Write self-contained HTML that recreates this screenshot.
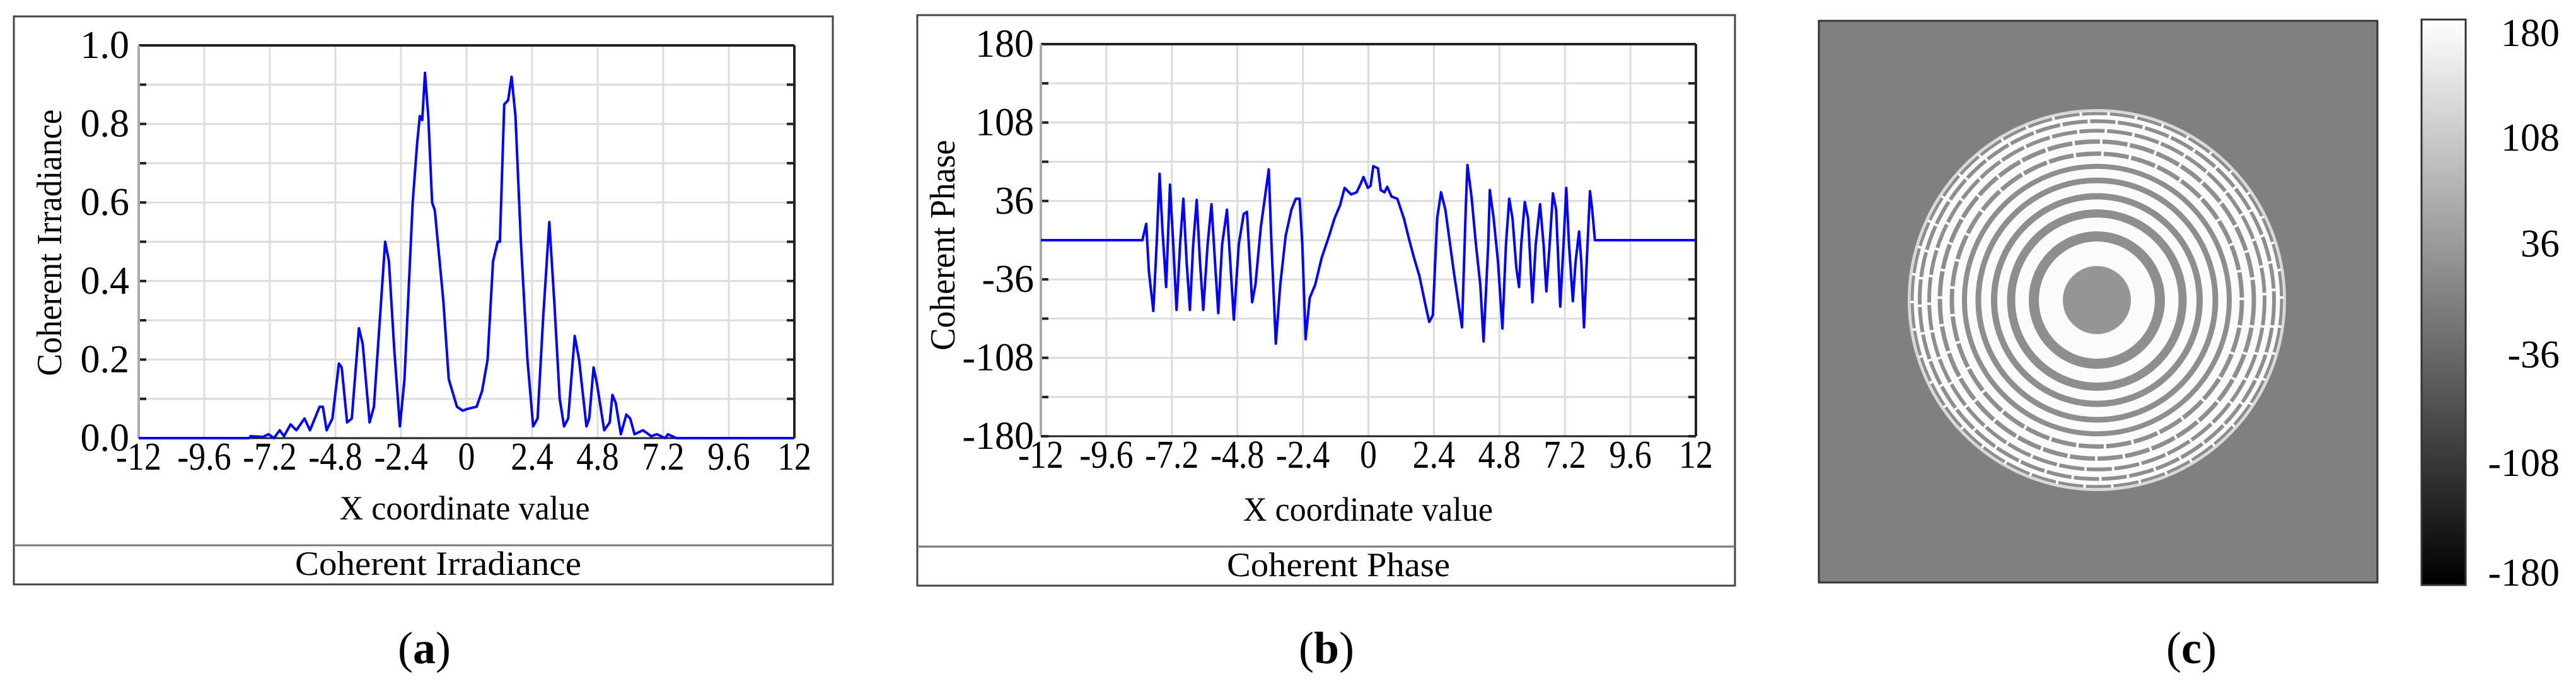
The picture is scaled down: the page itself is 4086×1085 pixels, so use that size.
<!DOCTYPE html>
<html><head><meta charset="utf-8"><style>
html,body{margin:0;padding:0;background:#fff;}
svg{display:block;}
svg text{font-family:"Liberation Serif","DejaVu Serif",serif;}
.sx{transform-box:fill-box;transform-origin:center;transform:scaleX(0.87);}
</style></head><body>
<svg id="fig" width="4086" height="1085" viewBox="0 0 4086 1085" xmlns="http://www.w3.org/2000/svg" font-family="Liberation Serif, serif">
<defs>
<linearGradient id="cbg" x1="0" y1="1" x2="0" y2="0">
<stop offset="0" stop-color="#000"/><stop offset="1" stop-color="#fff"/>
</linearGradient>
</defs>
<g id="pa">
<rect x="22" y="26" width="1299" height="901" fill="none" stroke="#444" stroke-width="3"/>
<line x1="22" y1="865" x2="1321" y2="865" stroke="#777" stroke-width="3"/>
<text x="695" y="912" font-size="54" text-anchor="middle" textLength="454" lengthAdjust="spacingAndGlyphs">Coherent Irradiance</text>
<text x="737" y="824" font-size="54" text-anchor="middle" textLength="397" lengthAdjust="spacingAndGlyphs">X coordinate value</text>
<text transform="translate(97,385) rotate(-90)" font-size="56" text-anchor="middle" textLength="423" lengthAdjust="spacingAndGlyphs">Coherent  Irradiance</text>
<text x="673" y="1052" font-size="72" text-anchor="middle">(<tspan font-weight="bold">a</tspan>)</text>
</g>
<g id="pb">
<rect x="1455" y="24" width="1297" height="905" fill="none" stroke="#444" stroke-width="3"/>
<line x1="1455" y1="867" x2="2752" y2="867" stroke="#777" stroke-width="3"/>
<text x="2123" y="914" font-size="54" text-anchor="middle" textLength="354" lengthAdjust="spacingAndGlyphs">Coherent Phase</text>
<text x="2170" y="826" font-size="54" text-anchor="middle" textLength="396" lengthAdjust="spacingAndGlyphs">X coordinate value</text>
<text transform="translate(1514,389) rotate(-90)" font-size="56" text-anchor="middle" textLength="334" lengthAdjust="spacingAndGlyphs">Coherent  Phase</text>
<text x="2104" y="1052" font-size="72" text-anchor="middle">(<tspan font-weight="bold">b</tspan>)</text>
</g>
<g id="pc">
<rect x="2885" y="33" width="886" height="891" fill="#808080" stroke="#333" stroke-width="3"/>
<g id="rings"></g>
<rect x="3841" y="31" width="70" height="897" fill="url(#cbg)" stroke="#333" stroke-width="3"/>
<g id="cbl"></g>
<text x="3476" y="1052" font-size="72" text-anchor="middle">(<tspan font-weight="bold">c</tspan>)</text>
</g>
</svg>
<script>
// Irradiance data (panel a)
const irrX = [-12,-7.96,-7.90,-7.45,-7.25,-7.05,-6.84,-6.68,-6.44,-6.23,-5.93,-5.73,-5.38,-5.26,-5.12,-4.91,-4.67,-4.57,-4.37,-4.20,-3.94,-3.80,-3.55,-3.39,-2.98,-2.84,-2.64,-2.44,-2.27,-1.97,-1.81,-1.71,-1.62,-1.52,-1.40,-1.26,-1.16,-0.85,-0.65,-0.35,-0.14,0.06,0.37,0.57,0.77,0.97,1.14,1.22,1.38,1.52,1.65,1.79,1.99,2.23,2.44,2.60,2.80,3.03,3.21,3.41,3.57,3.72,3.96,4.12,4.39,4.49,4.65,4.77,5.04,5.24,5.34,5.46,5.65,5.85,5.99,6.15,6.46,6.76,6.97,7.27,7.37,7.68,7.98,12];
const irrY = [0,0,0.005,0.003,0.01,0,0.02,0.005,0.035,0.02,0.05,0.02,0.08,0.08,0.02,0.05,0.19,0.18,0.04,0.05,0.28,0.24,0.04,0.08,0.50,0.45,0.22,0.03,0.15,0.60,0.75,0.82,0.81,0.93,0.82,0.60,0.58,0.35,0.15,0.08,0.07,0.075,0.08,0.12,0.20,0.45,0.50,0.50,0.85,0.86,0.92,0.82,0.50,0.20,0.03,0.05,0.30,0.55,0.35,0.10,0.03,0.05,0.26,0.20,0.03,0.05,0.18,0.14,0.02,0.04,0.11,0.09,0.01,0.06,0.05,0.01,0.02,0.005,0.01,0,0.01,0,0,0];
const irrYTicks = ["0.0","0.2","0.4","0.6","0.8","1.0"];
const xTicks = ["-12","-9.6","-7.2","-4.8","-2.4","0","2.4","4.8","7.2","9.6","12"];
// Phase data (panel b)
const phX = [-12,-8.28,-8.14,-8.04,-7.88,-7.76,-7.65,-7.55,-7.41,-7.27,-7.15,-7.03,-6.90,-6.78,-6.66,-6.54,-6.42,-6.29,-6.17,-6.05,-5.89,-5.75,-5.62,-5.50,-5.36,-5.18,-5.06,-4.93,-4.75,-4.57,-4.45,-4.26,-4.14,-3.94,-3.65,-3.55,-3.39,-3.23,-3.03,-2.82,-2.66,-2.52,-2.42,-2.30,-2.15,-1.95,-1.71,-1.44,-1.24,-1.04,-0.87,-0.63,-0.43,-0.28,-0.18,-0.02,0.08,0.18,0.35,0.45,0.59,0.69,0.85,1.06,1.30,1.50,1.67,1.87,2.07,2.23,2.36,2.52,2.66,2.82,3.13,3.43,3.57,3.63,3.78,3.94,4.10,4.22,4.39,4.45,4.59,4.75,4.91,5.04,5.16,5.28,5.42,5.52,5.60,5.73,5.85,6.01,6.13,6.29,6.42,6.52,6.64,6.76,6.88,7.03,7.15,7.25,7.35,7.49,7.59,7.72,7.80,7.90,8.00,8.12,8.20,8.30,12];
const phY = [0,0,15,-29,-65,-4,61,12,-43,51,-4,-64,-4,38,-20,-64,-4,37,-20,-64,-4,33,-20,-67,-4,28,-20,-73,-4,24,26,-57,-41,12,65,-4,-95,-41,4,28,38,38,-4,-91,-53,-41,-16,4,20,32,48,42,44,52,58,48,50,68,66,46,44,49,40,38,20,0,-16,-33,-57,-75,-69,20,44,28,-29,-80,32,69,40,-4,-41,-93,-4,46,20,-20,-81,-4,38,20,-25,-43,-4,35,20,-57,-4,33,-4,-47,-4,43,28,-61,-4,48,-4,-56,-20,8,-20,-80,-20,45,28,0,0];
const phYTicks = ["-180","-108","-36","36","108","180"];
// Phase map ring radii (px) and widths
const ringR = [100,136,163,188,210,230,249,266,281,293];
const ringW = [16,13,10,9,8,7,7,6,6,5];
const cbTicks = ["180","108","36","-36","-108","-180"];

const NS = "http://www.w3.org/2000/svg";
function mk(tag, attrs, parent){const e=document.createElementNS(NS,tag);for(const k in attrs)e.setAttribute(k,attrs[k]);parent.appendChild(e);return e;}

function chart(g, L, T, W, H, xmin, xmax, ymin, ymax, nY, yLabels, xs, ys, labelRight, prefix){
  const sx = v => L + (v - xmin) / (xmax - xmin) * W;
  const sy = v => T + H - (v - ymin) / (ymax - ymin) * H;
  for(let i=0;i<=10;i++){
    const x = L + W*i/10;
    const l = mk("line",{x1:x,y1:T,x2:x,y2:T+H,stroke:"#dcdcdc","stroke-width":3},g);
    
    
  }
  for(let i=0;i<=nY;i++){
    const y = T + H*i/nY;
    const l = mk("line",{x1:L,y1:y,x2:L+W,y2:y,stroke:"#dcdcdc","stroke-width":3},g);
    
    
    const t1 = mk("line",{x1:L,y1:y,x2:L+12,y2:y,stroke:"#222","stroke-width":4},g);
    
    
    const t2 = mk("line",{x1:L+W-12,y1:y,x2:L+W,y2:y,stroke:"#222","stroke-width":4},g);
    
    
  }
  mk("line",{x1:L,y1:T,x2:L+W,y2:T,stroke:"#222","stroke-width":4},g);
  mk("line",{x1:L+W,y1:T,x2:L+W,y2:T+H,stroke:"#222","stroke-width":4},g);
  mk("line",{x1:L,y1:T,x2:L,y2:T+H,stroke:"#aaa","stroke-width":4},g);
  mk("line",{x1:L,y1:T+H,x2:L+W,y2:T+H,stroke:"#222","stroke-width":3},g);
  xTicks.forEach((s,i)=>{
    const t = mk("text",{x:L+W*i/10,y:T+H+50,"font-size":62,"font-family":"Liberation Serif, serif","text-anchor":"middle",class:"sx"},g);
    t.textContent = s;
    
    
  });
  yLabels.forEach((s,i)=>{
    const y = T + H - H*i/(yLabels.length-1);
    const t = mk("text",{x:labelRight,y:y+20,"font-size":62,"font-family":"Liberation Serif, serif","text-anchor":"end"},g);
    t.textContent = s;
    
    
  });
  let d = "";
  xs.forEach((v,i)=>{ d += (i?"L":"M") + sx(v).toFixed(1) + " " + sy(ys[i]).toFixed(1); });
  const p = mk("path",{d:d,fill:"none",stroke:"#0000ff","stroke-width":4,"stroke-linejoin":"round"},g);
  
  
}
chart(document.getElementById("pa"), 220, 72, 1040, 623, -12, 12, 0, 1, 10, irrYTicks, irrX, irrY, 205, "irradiance");
chart(document.getElementById("pb"), 1651, 70, 1039, 622, -12, 12, -180, 180, 10, phYTicks, phX, phY, 1640, "phase");

// Phase map
const rg = document.getElementById("rings");
const cx = 3326, cy = 476;
const disk = mk("ellipse",{cx:cx,cy:cy,rx:298,ry:301,fill:"#fbfbfb",stroke:"#d8d8d8","stroke-width":4},rg);


ringR.forEach((r,i)=>{
  const c = mk("ellipse",{cx:cx,cy:cy,rx:r,ry:r*1.01,fill:"none",stroke:"#8e8e8e","stroke-width":ringW[i],"stroke-dasharray":i>4?"40 4":"none"},rg);
  
  
});
const core = mk("circle",{cx:cx,cy:cy,r:54,fill:"#959595"},rg);



const cb = document.getElementById("cbl");
const cbY = [52,218,386,562,734,908];
cbTicks.forEach((s,i)=>{
  const t = mk("text",{x:4060,y:cbY[i]+21,"font-size":62,"font-family":"Liberation Serif, serif","text-anchor":"end"},cb);
  t.textContent = s;
  
  
});
</script>
</body></html>
